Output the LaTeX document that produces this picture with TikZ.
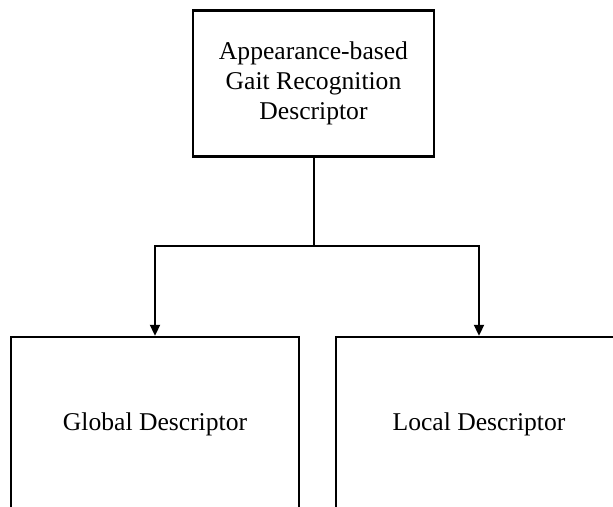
\documentclass[tikz,border=0pt]{standalone}
\usepackage{fontspec}
\setmainfont{Liberation Serif}
\usetikzlibrary{arrows.meta}
\begin{document}
\begin{tikzpicture}[x=1pt,y=-1pt,
  box/.style={draw=black, line width=2.4pt, align=center, inner sep=0pt,
    font=\fontsize{25.6}{30}\selectfont},
  link/.style={draw=black, line width=2pt},
  arr/.style={link, -{Triangle[width=10pt,length=11pt]}}]
  \useasboundingbox (0,0) rectangle (613,506);
  \clip (0,0) rectangle (613,506);
  \fill[white] (0,0) rectangle (613,506);
  % root descriptor
  \node[box, minimum width=241pt, minimum height=146pt] (top) at (313.5,83.5)
    {Appearance-based\\Gait Recognition\\Descriptor};
  % two kinds of descriptor
  \node[box, minimum width=288pt, minimum height=174pt] (global) at (155,424)
    {Global Descriptor};
  \node[box, minimum width=286pt, minimum height=174pt] (local) at (479,424)
    {Local Descriptor};
  % branching connectors
  \coordinate (split) at (313.5,246);
  \draw[link] (top.south) -- (split);
  \draw[arr] (split) -| (global.north);
  \draw[arr] (split) -| (local.north);
\end{tikzpicture}
\end{document}
